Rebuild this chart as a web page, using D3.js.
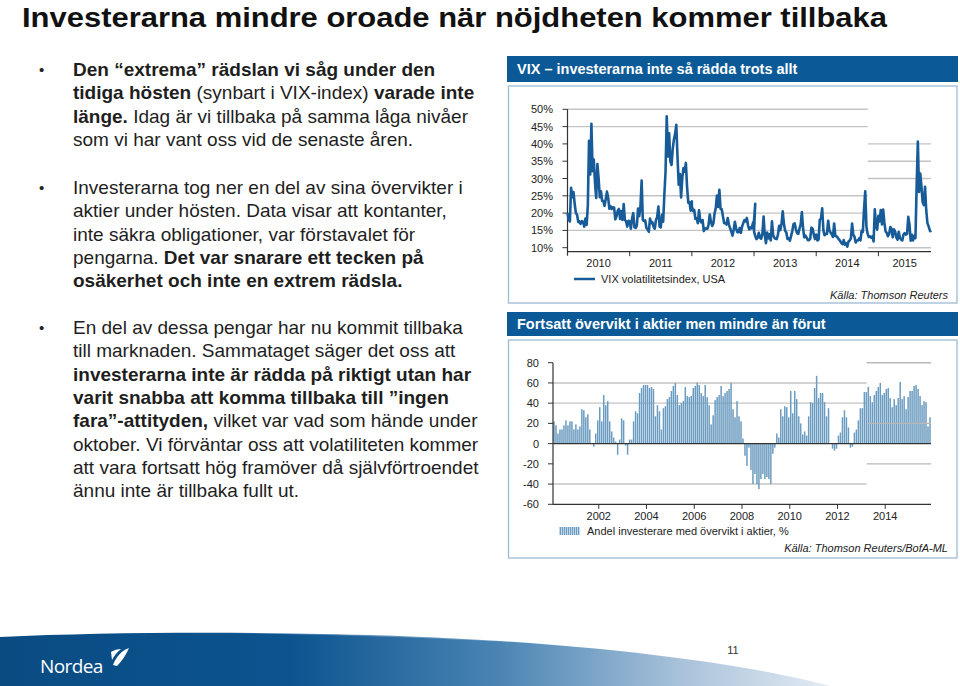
<!DOCTYPE html>
<html>
<head>
<meta charset="utf-8">
<title>Investerarna mindre oroade</title>
<script src="https://d3js.org/d3.v7.min.js"></script>
<style>
  body { margin: 0; background: #fff; }
  svg { display: block; font-family: "Liberation Sans", Arial, sans-serif; }
</style>
</head>
<body>
<div id="slide"></div>
<script>
var W = 960, H = 686;

// VIX, weekly closes (%), one array per year
var vix2010 = [20.0, 18.1, 17.6, 27.3, 24.6, 26.1, 22.7, 20.0, 19.5, 17.4, 17.6, 16.9, 17.7, 17.5, 16.1, 18.4, 16.6, 22.1, 40.9, 31.2, 45.8, 32.1, 35.5, 28.8, 24.4, 34.2, 30.1, 24.6, 26.3, 23.5, 23.5, 22.1, 24.1, 26.2, 24.5, 21.3, 22.0, 21.2, 21.7, 21.6, 18.2, 19.1, 20.7, 21.2, 18.3, 20.6, 18.0, 22.6, 18.0, 17.6, 16.1, 17.8];
var vix2011 = [17.6, 15.5, 18.5, 20.0, 15.9, 15.7, 16.4, 21.3, 19.1, 21.9, 29.4, 18.0, 17.7, 17.9, 15.7, 15.3, 14.6, 18.4, 17.1, 17.4, 16.0, 15.5, 18.0, 18.9, 21.9, 16.1, 15.9, 19.5, 17.5, 25.3, 32.0, 48.0, 36.4, 43.1, 35.0, 33.9, 38.5, 41.3, 42.9, 45.5, 36.2, 28.2, 31.3, 24.5, 30.2, 33.0, 32.0, 34.5, 27.5, 23.0, 23.2, 20.7, 23.4];
var vix2012 = [22.0, 20.6, 20.9, 18.3, 18.5, 17.1, 20.8, 17.8, 17.3, 18.0, 14.8, 15.6, 15.5, 15.5, 16.7, 19.6, 17.4, 16.3, 17.0, 19.9, 21.5, 25.1, 21.8, 26.7, 21.2, 21.1, 19.1, 17.1, 17.1, 16.7, 18.6, 16.7, 15.6, 14.7, 13.5, 15.2, 17.5, 15.6, 14.5, 14.5, 15.7, 14.3, 16.1, 17.1, 18.0, 17.6, 18.6, 16.4, 15.3, 15.9, 15.6, 17.0, 17.8, 22.7];
var vix2013 = [14.7, 13.4, 12.5, 12.9, 14.3, 12.9, 12.6, 14.1, 19.0, 13.5, 11.3, 14.4, 12.7, 13.9, 12.1, 17.6, 13.6, 12.9, 12.6, 12.5, 13.8, 16.3, 15.1, 17.0, 20.5, 16.9, 14.9, 14.4, 12.5, 12.7, 12.0, 13.4, 14.8, 16.8, 17.0, 15.4, 14.2, 14.0, 15.5, 16.7, 20.3, 15.7, 13.0, 13.5, 12.9, 12.2, 12.2, 12.6, 15.8, 15.5, 13.8, 12.5, 13.7];
var vix2014 = [13.8, 12.1, 12.4, 18.1, 18.4, 21.4, 15.0, 13.6, 14.0, 14.0, 17.8, 15.0, 14.4, 13.9, 13.1, 17.0, 13.4, 13.3, 12.9, 12.4, 12.0, 11.4, 11.0, 12.2, 10.9, 11.3, 10.3, 11.8, 12.1, 12.7, 17.0, 13.8, 13.2, 11.5, 12.1, 12.1, 12.7, 12.1, 14.9, 14.6, 21.2, 26.3, 16.1, 14.0, 13.1, 13.3, 12.9, 13.3, 11.8, 21.1, 16.5, 15.2, 19.2];
var vix2015 = [17.8, 17.6, 20.9, 16.7, 21.0, 17.3, 14.7, 14.3, 13.3, 14.0, 16.0, 15.4, 13.0, 15.3, 14.7, 13.0, 12.3, 14.6, 12.9, 12.4, 12.1, 13.8, 14.2, 13.8, 14.0, 18.9, 16.8, 12.0, 13.7, 12.1, 13.4, 12.8, 28.0, 40.7, 26.1, 31.4, 27.8, 23.2, 22.3, 27.6, 20.9, 17.1, 16.2, 15.0, 14.5];
var vixByYear = [vix2010, vix2011, vix2012, vix2013, vix2014, vix2015];
var vixYears = [2010, 2011, 2012, 2013, 2014, 2015];
var vixTicks = [10, 15, 20, 25, 30, 35, 40, 45, 50];
var vixGridLeft = [15, 20, 25, 45, 50];
var vixGridRight = [10, 30, 35, 40];
var vixGridSplit = 2014.83;

// Andel investerare med övervikt i aktier, %, monthly (2000 starts in February, 2015 ends in November)
var fms2000 = [22, 18, 10, 14, 14, 18, 23, 18, 22, 22, 14];
var fms2001 = [19, 14, 17, 34, 33, 26, 29, 14, 0, -3, 10, 23];
var fms2002 = [36, 22, 48, 38, 42, 22, 12, 6, 2, -11, 4, 25];
var fms2003 = [23, -2, -11, 4, 4, 22, 32, 30, 50, 55, 58, 58];
var fms2004 = [58, 55, 56, 54, 27, 38, 32, 14, 35, 37, 44, 46];
var fms2005 = [52, 57, 60, 48, 38, 40, 42, 56, 47, 46, 47, 55];
var fms2006 = [57, 60, 58, 50, 47, 58, 46, 38, 19, 28, 43, 46];
var fms2007 = [48, 57, 47, 50, 52, 54, 60, 34, 26, 42, 27, 22];
var fms2008 = [5, -12, -22, -4, -26, -40, -30, -40, -45, -35, -30, -35];
var fms2009 = [-33, -35, -40, -10, -4, 10, 6, 34, 27, 37, 36, 26];
var fms2010 = [52, 30, 52, 44, 27, 20, 9, 12, 8, 27, 41, 40];
var fms2011 = [55, 67, 45, 50, 50, 41, 27, 35, 0, -5, -7, -5];
var fms2012 = [8, 11, 26, 33, 26, 16, -4, -3, 11, 14, 23, 35];
var fms2013 = [35, 51, 51, 56, 47, 41, 48, 52, 56, 60, 48, 50];
var fms2014 = [54, 55, 45, 36, 44, 38, 45, 61, 44, 47, 34, 46];
var fms2015 = [52, 52, 57, 58, 54, 47, 38, 42, 41, 17, 26];
var fmsByYear = [fms2000, fms2001, fms2002, fms2003, fms2004, fms2005, fms2006, fms2007,
                 fms2008, fms2009, fms2010, fms2011, fms2012, fms2013, fms2014, fms2015];
var fmsFirstYear = 2000, fmsFirstMonth = 1;
var fmsTicks = [-60, -40, -20, 0, 20, 40, 60, 80];
var fmsYearTicks = [2002, 2004, 2006, 2008, 2010, 2012, 2014];
var fmsGridLeft = [-40, 40, 60];
var fmsGridRight = [-20, 20, 80];
var fmsGridSplit = 2013.22;

var titleText = "Investerarna mindre oroade när nöjdheten kommer tillbaka";
var chart1Title = "VIX – investerarna inte så rädda trots allt";
var chart1Legend = "VIX volatilitetsindex, USA";
var chart1Source = "Källa: Thomson Reuters";
var chart2Title = "Fortsatt övervikt i aktier men mindre än förut";
var chart2Legend = "Andel investerare med övervikt i aktier, %";
var chart2Source = "Källa: Thomson Reuters/BofA-ML";
var pageNumber = "11";

// bullet text: [text, bold]
var bullets = [
  [
    [["Den “extrema” rädslan vi såg under den", 1]],
    [["tidiga hösten", 1], [" (synbart i VIX-index) ", 0], ["varade inte", 1]],
    [["länge.", 1], [" Idag är vi tillbaka på samma låga nivåer", 0]],
    [["som vi har vant oss vid de senaste åren.", 0]]
  ],
  [
    [["Investerarna tog ner en del av sina övervikter i", 0]],
    [["aktier under hösten. Data visar att kontanter,", 0]],
    [["inte säkra obligationer, var förstavalet för", 0]],
    [["pengarna. ", 0], ["Det var snarare ett tecken på", 1]],
    [["osäkerhet och inte en extrem rädsla.", 1]]
  ],
  [
    [["En del av dessa pengar har nu kommit tillbaka", 0]],
    [["till marknaden. Sammataget säger det oss att", 0]],
    [["investerarna inte är rädda på riktigt utan har", 1]],
    [["varit snabba att komma tillbaka till ”ingen", 1]],
    [["fara”-attityden,", 1], [" vilket var vad som hände under", 0]],
    [["oktober. Vi förväntar oss att volatiliteten kommer", 0]],
    [["att vara fortsatt hög framöver då självförtroendet", 0]],
    [["ännu inte är tillbaka fullt ut.", 0]]
  ]
];
var bulletTop = [76, 194, 334];

var BLUE = "#0b5a97";
var svg = d3.select("#slide").append("svg").attr("width", W).attr("height", H);

// ---- slide title
svg.append("text")
  .attr("x", 22).attr("y", 27)
  .attr("font-family", "'Liberation Sans Narrow', 'Arial Narrow', sans-serif")
  .attr("font-weight", "bold").attr("font-size", 28)
  .attr("textLength", 865).attr("lengthAdjust", "spacingAndGlyphs")
  .attr("fill", "#111")
  .text(titleText);

// ---- bullet text
var lineH = 23.3;
bullets.forEach(function (para, p) {
  svg.append("text").attr("x", 39).attr("y", bulletTop[p] - 1)
    .attr("font-size", 15).attr("fill", "#222").text("•");
  para.forEach(function (line, i) {
    var t = svg.append("text")
      .attr("x", 73).attr("y", bulletTop[p] + i * lineH)
      .attr("font-size", 19).attr("fill", "#1e1e1e")
      .style("white-space", "pre");
    line.forEach(function (seg) {
      t.append("tspan").attr("font-weight", seg[1] ? "bold" : "normal").text(seg[0]);
    });
  });
});

// ---- panel frames
function panel(y0, y1, y2, title) {
  svg.append("rect").attr("x", 507).attr("y", y0).attr("width", 451).attr("height", y1 - y0)
    .attr("fill", BLUE);
  svg.append("text").attr("x", 517).attr("y", y0 + (y1 - y0) / 2 + 5)
    .attr("fill", "#fff").attr("font-weight", "bold").attr("font-size", 14.5)
    .text(title);
  svg.append("rect").attr("x", 508.5).attr("y", y1 + 4).attr("width", 448.5).attr("height", y2 - y1 - 4)
    .attr("fill", "none").attr("stroke", "#9dbbd6").attr("stroke-width", 1.3);
}
panel(56, 82, 303, chart1Title);
panel(312, 336, 558, chart2Title);

// ---- chart 1: VIX
var vixData = [];
vixByYear.forEach(function (arr, k) {
  arr.forEach(function (v, i) {
    vixData.push({ t: vixYears[k] + i / 52, v: v });
  });
});
var x1 = d3.scaleLinear().domain([2010, d3.max(vixData, function (d) { return d.t; })]).range([567.5, 931]);
var y1 = d3.scaleLinear().domain([10, 50]).range([247.7, 109.3]);
var axisY1 = 251.7;

var g1 = svg.append("g");
g1.selectAll(".gl").data(vixGridLeft).enter().append("line")
  .attr("x1", x1(2010)).attr("x2", x1(vixGridSplit))
  .attr("y1", function (d) { return y1(d); }).attr("y2", function (d) { return y1(d); })
  .attr("stroke", "#c4c4c4").attr("stroke-width", 1.4);
g1.selectAll(".gr").data(vixGridRight).enter().append("line")
  .attr("x1", x1(vixGridSplit)).attr("x2", x1.range()[1])
  .attr("y1", function (d) { return y1(d); }).attr("y2", function (d) { return y1(d); })
  .attr("stroke", "#c4c4c4").attr("stroke-width", 1.4);

// axes
g1.append("line").attr("x1", x1(2010)).attr("x2", x1(2010)).attr("y1", y1(50)).attr("y2", axisY1 + 4)
  .attr("stroke", "#333").attr("stroke-width", 1.2);
g1.append("line").attr("x1", x1(2010)).attr("x2", x1.range()[1]).attr("y1", axisY1).attr("y2", axisY1)
  .attr("stroke", "#333").attr("stroke-width", 1.2);
g1.selectAll(".yt").data(vixTicks).enter().append("line")
  .attr("x1", x1(2010) - 5).attr("x2", x1(2010))
  .attr("y1", function (d) { return y1(d); }).attr("y2", function (d) { return y1(d); })
  .attr("stroke", "#333");
g1.selectAll(".yl").data(vixTicks).enter().append("text")
  .attr("x", 553).attr("y", function (d) { return y1(d) + 4; })
  .attr("text-anchor", "end").attr("font-size", 11).attr("fill", "#222")
  .text(function (d) { return d + "%"; });
g1.selectAll(".xt").data(vixYears.slice(1)).enter().append("line")
  .attr("x1", function (d) { return x1(d); }).attr("x2", function (d) { return x1(d); })
  .attr("y1", axisY1).attr("y2", axisY1 + 4.5)
  .attr("stroke", "#333");
g1.selectAll(".xl").data(vixYears).enter().append("text")
  .attr("x", function (d) { return (x1(d) + Math.min(x1(d + 1), x1.range()[1])) / 2; })
  .attr("y", 267).attr("text-anchor", "middle").attr("font-size", 11).attr("fill", "#222")
  .text(function (d) { return d; });

var line1 = d3.line().x(function (d) { return x1(d.t); }).y(function (d) { return y1(d.v); });
g1.append("path").datum(vixData).attr("d", line1)
  .attr("fill", "none").attr("stroke", "#175c98").attr("stroke-width", 2.6)
  .attr("stroke-linejoin", "round");

// legend + source
g1.append("line").attr("x1", 574).attr("x2", 595).attr("y1", 279).attr("y2", 279)
  .attr("stroke", "#175c98").attr("stroke-width", 2.5);
g1.append("text").attr("x", 601).attr("y", 283).attr("font-size", 11).attr("fill", "#222").text(chart1Legend);
g1.append("text").attr("x", 948).attr("y", 299).attr("text-anchor", "end")
  .attr("font-size", 11).attr("font-style", "italic").attr("fill", "#222").text(chart1Source);

// ---- chart 2: fund manager survey
var fmsData = [];
fmsByYear.forEach(function (arr, k) {
  var m0 = k === 0 ? fmsFirstMonth : 0;
  arr.forEach(function (v, i) {
    fmsData.push({ t: fmsFirstYear + k + (m0 + i) / 12, v: v });
  });
});
var x2 = d3.scaleLinear()
  .domain([fmsData[0].t, fmsData[fmsData.length - 1].t + 1 / 12]).range([553, 931]);
var y2 = d3.scaleLinear().domain([-60, 80]).range([504.3, 362.7]);

var g2 = svg.append("g");
g2.selectAll(".gl").data(fmsGridLeft).enter().append("line")
  .attr("x1", x2.range()[0]).attr("x2", x2(fmsGridSplit))
  .attr("y1", function (d) { return y2(d); }).attr("y2", function (d) { return y2(d); })
  .attr("stroke", "#c4c4c4").attr("stroke-width", 1.4);

var slot = x2(fmsData[0].t + 1 / 12) - x2(fmsData[0].t);
g2.selectAll(".bar").data(fmsData).enter().append("rect")
  .attr("x", function (d) { return x2(d.t) + 0.25; })
  .attr("width", slot - 0.5)
  .attr("y", function (d) { return Math.min(y2(d.v), y2(0)); })
  .attr("height", function (d) { return Math.abs(y2(d.v) - y2(0)); })
  .attr("fill", "#6a9bc0");

g2.selectAll(".gr").data(fmsGridRight).enter().append("line")
  .attr("x1", x2(fmsGridSplit)).attr("x2", x2.range()[1])
  .attr("y1", function (d) { return y2(d); }).attr("y2", function (d) { return y2(d); })
  .attr("stroke", "#b8b8b8").attr("stroke-width", 1.4);

g2.append("line").attr("x1", x2.range()[0]).attr("x2", x2.range()[1]).attr("y1", y2(0)).attr("y2", y2(0))
  .attr("stroke", "#333").attr("stroke-width", 1.2);
g2.append("line").attr("x1", x2.range()[0]).attr("x2", x2.range()[1]).attr("y1", y2(-60)).attr("y2", y2(-60))
  .attr("stroke", "#333").attr("stroke-width", 1.2);
g2.append("line").attr("x1", x2.range()[0]).attr("x2", x2.range()[0]).attr("y1", y2(80)).attr("y2", y2(-60))
  .attr("stroke", "#333").attr("stroke-width", 1.2);
g2.selectAll(".yt").data(fmsTicks).enter().append("line")
  .attr("x1", x2.range()[0] - 5).attr("x2", x2.range()[0])
  .attr("y1", function (d) { return y2(d); }).attr("y2", function (d) { return y2(d); })
  .attr("stroke", "#333");
g2.selectAll(".yl").data(fmsTicks).enter().append("text")
  .attr("x", 539).attr("y", function (d) { return y2(d) + 4; })
  .attr("text-anchor", "end").attr("font-size", 11).attr("fill", "#222")
  .text(function (d) { return d; });
g2.selectAll(".xt").data(fmsYearTicks).enter().append("line")
  .attr("x1", function (d) { return x2(d); }).attr("x2", function (d) { return x2(d); })
  .attr("y1", y2(-60)).attr("y2", y2(-60) + 4.5).attr("stroke", "#333");
g2.selectAll(".xl").data(fmsYearTicks).enter().append("text")
  .attr("x", function (d) { return x2(d); }).attr("y", 520)
  .attr("text-anchor", "middle").attr("font-size", 11).attr("fill", "#222")
  .text(function (d) { return d; });

// legend swatch (striped)
var defs = svg.append("defs");
var pat = defs.append("pattern").attr("id", "stripes").attr("patternUnits", "userSpaceOnUse")
  .attr("width", 2).attr("height", 10);
pat.append("rect").attr("width", 1.4).attr("height", 10).attr("fill", "#6a9bc0");
g2.append("rect").attr("x", 559).attr("y", 527).attr("width", 21).attr("height", 8).attr("fill", "url(#stripes)");
g2.append("text").attr("x", 587).attr("y", 535).attr("font-size", 11).attr("fill", "#222").text(chart2Legend);
g2.append("text").attr("x", 948).attr("y", 552).attr("text-anchor", "end")
  .attr("font-size", 11).attr("font-style", "italic").attr("fill", "#222").text(chart2Source);

// ---- footer swoosh
var grad = defs.append("linearGradient").attr("id", "swoosh").attr("x1", "0").attr("x2", "1").attr("y1", "0").attr("y2", "0");
[[0, "#0a4b82"], [0.35, "#0c5490"], [0.6, "#4a84b3"], [0.82, "#a8c2da"], [1, "#e4ebf3"]].forEach(function (s) {
  grad.append("stop").attr("offset", s[0]).attr("stop-color", s[1]);
});
svg.append("path")
  .attr("d", "M0,637 C150,630 360,632 500,641 C640,650 760,667 830,686 L0,686 Z")
  .attr("fill", "url(#swoosh)");
svg.append("path")
  .attr("d", "M230,633 C380,632 520,640 640,652 C560,643 420,636 230,633 Z")
  .attr("fill", "#ffffff").attr("opacity", 0.25);

svg.append("text").attr("x", 40).attr("y", 673)
  .attr("font-family", "'Open Sans', sans-serif").attr("font-size", 19)
  .attr("letter-spacing", -0.6).attr("fill", "#fff").text("Nordea");
svg.append("path").attr("d", "M113,665 C116,657 121,651 129,648 C126,655 122,661 117,666 Z").attr("fill", "#fff");
svg.append("path").attr("d", "M111,652 C114,650 118,649 121,649 C117,652 114,656 112,660 Z").attr("fill", "#fff");

svg.append("text").attr("x", 733).attr("y", 654).attr("text-anchor", "middle")
  .attr("font-size", 11).attr("fill", "#333").text(pageNumber);
</script>
</body>
</html>
